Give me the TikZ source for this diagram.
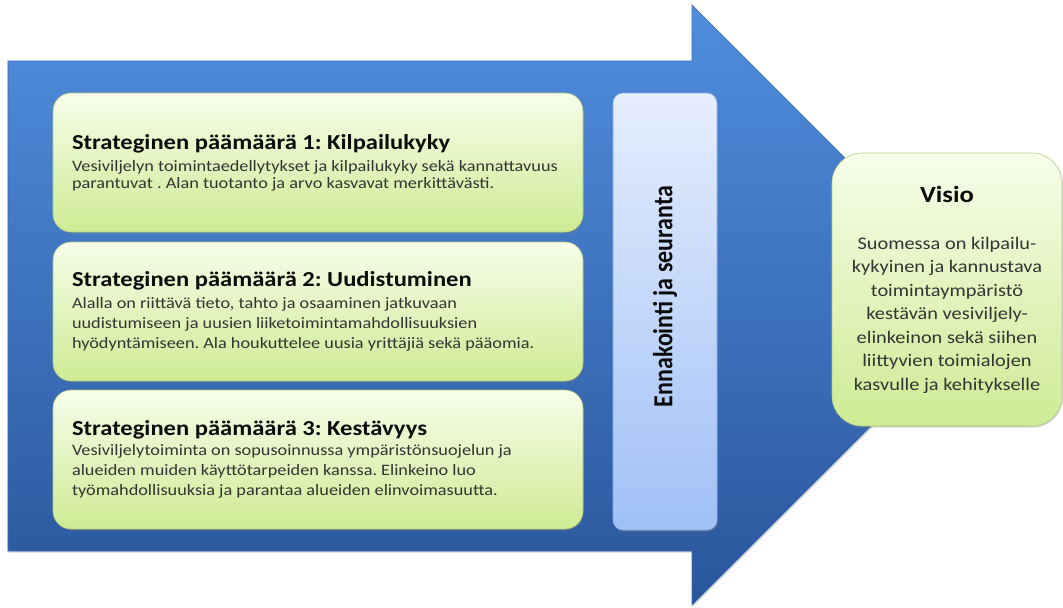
\documentclass[tikz,border=0pt]{standalone}
\usepackage{fontspec}
\setmainfont{Carlito}[FakeStretch=1.15]
\newfontfamily\sidefont{Carlito}[FakeStretch=0.87]
\usepackage{xcolor}
\usepackage{tikz}
\usetikzlibrary{positioning, calc, shadows}
\definecolor{ArrowTop}{RGB}{80, 142, 222}
\definecolor{ArrowBottom}{RGB}{42, 86, 155}
\definecolor{ArrowEdge}{RGB}{58, 108, 178}
\definecolor{GoalTop}{RGB}{247, 253, 234}
\definecolor{GoalBottom}{RGB}{206, 235, 148}
\definecolor{GoalEdge}{RGB}{178, 204, 128}
\definecolor{ForeTop}{RGB}{229, 238, 253}
\definecolor{ForeBottom}{RGB}{160, 192, 246}
\definecolor{ForeEdge}{RGB}{140, 170, 222}
\definecolor{TitleText}{RGB}{12, 12, 12}
\definecolor{BodyText}{RGB}{52, 52, 52}

\newcommand{\goaltitle}{\fontsize{15.2}{18}\selectfont\bfseries\color{TitleText}}
\frenchspacing

\begin{document}
\begin{tikzpicture}[
  shade/.style={drop shadow={shadow xshift=0.6pt, shadow yshift=-1.2pt, opacity=0.35}},
  goal/.style={draw=GoalEdge, line width=0.4pt, rounded corners=0.45cm,
    top color=GoalTop, bottom color=GoalBottom,
    minimum width=13.25cm, minimum height=3.475cm, shade},
  goaltext/.style={anchor=west, inner sep=0pt, align=left,
    font=\fontsize{11.3}{14.2}\selectfont\color{BodyText}},
  fore/.style={draw=ForeEdge, line width=0.4pt, rounded corners=0.25cm,
    top color=ForeTop, bottom color=ForeBottom,
    minimum width=2.6cm, minimum height=10.925cm, shade},
  vision/.style={draw=GoalEdge, line width=0.4pt, rounded corners=0.75cm,
    top color=GoalTop, bottom color=GoalBottom,
    minimum width=5.75cm, minimum height=6.825cm, align=center,
    font=\fontsize{12.6}{16.7}\selectfont\color{BodyText}, shade}
]
\useasboundingbox (0,0) rectangle (26.575,-15.175);

% big arrow
\path[top color=ArrowTop, bottom color=ArrowBottom, draw=ArrowEdge, line width=0.4pt, shade]
  (0.2,-1.525) -- (17.3,-1.525) -- (17.3,-0.125) -- (24.8,-7.625)
  -- (17.3,-15.125) -- (17.3,-13.775) -- (0.2,-13.775) -- cycle;

% goals
\node[goal] (g1) at (7.95,-4.0625) {};
\node[goal] (g2) at (7.95,-7.7875) {};
\node[goal] (g3) at (7.95,-11.4875) {};

\node[goaltext, font=\fontsize{11.3}{11.8}\selectfont\color{BodyText}] (g1text) at ([xshift=0.475cm]g1.west)
  {{\goaltitle Strateginen päämäärä 1: Kilpailukyky}\\[4pt]
   Vesiviljelyn toimintaedellytykset ja kilpailukyky sekä kannattavuus\\
   parantuvat . Alan tuotanto ja arvo kasvavat merkittävästi.};
\node[goaltext] (g2text) at ([xshift=0.475cm]g2.west)
  {{\goaltitle Strateginen päämäärä 2: Uudistuminen}\\[1.4pt]
   Alalla on riittävä tieto, tahto ja osaaminen jatkuvaan\\
   uudistumiseen ja uusien liiketoimintamahdollisuuksien\\
   hyödyntämiseen. Ala houkuttelee uusia yrittäjiä sekä pääomia.};
\node[goaltext] (g3text) at ([xshift=0.475cm]g3.west)
  {{\goaltitle Strateginen päämäärä 3: Kestävyys}\\[0pt]
   Vesiviljelytoiminta on sopusoinnussa ympäristönsuojelun ja\\
   alueiden muiden käyttötarpeiden kanssa. Elinkeino luo\\
   työmahdollisuuksia ja parantaa alueiden elinvoimasuutta.};

% foresight bar
\node[fore] (fore) at (16.625,-7.7875) {};
\node[rotate=90, text=TitleText, font=\sidefont\bfseries\fontsize{19.6}{22}\selectfont]
  (forelabel) at ([yshift=0.375cm]fore.center) {Ennakointi ja seuranta};

% vision
\node[vision] (visio) at (23.675,-7.2375)
  {{\fontsize{16.5}{20}\selectfont\bfseries\color{TitleText}Visio}\\[16.7pt]
   Suomessa on kilpailu-\\
   kykyinen ja kannustava\\
   toimintaympäristö\\
   kestävän vesiviljely-\\
   elinkeinon sekä siihen\\
   liittyvien toimialojen\\
   kasvulle ja kehitykselle};
\end{tikzpicture}
\end{document}
